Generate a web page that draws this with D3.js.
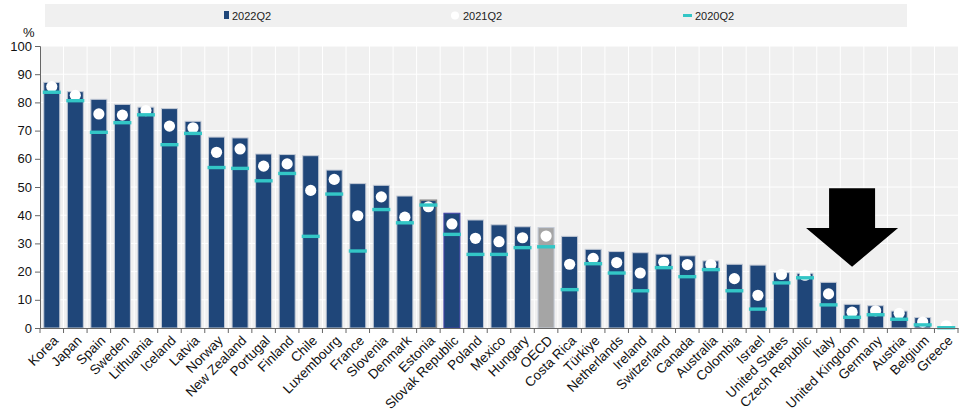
<!DOCTYPE html>
<html>
<head>
<meta charset="utf-8">
<script src="https://cdn.jsdelivr.net/npm/d3@7"></script>
<style>
  body { margin: 0; background: #fff; }
  svg { display: block; font-family: "Liberation Sans", Arial, sans-serif; }
</style>
</head>
<body>
<div id="visContainer"></div>
<script>
const width = 960;
const height = 417;

const countries = ["Korea", "Japan", "Spain", "Sweden", "Lithuania", "Iceland", "Latvia", "Norway",
  "New Zealand", "Portugal", "Finland", "Chile", "Luxembourg", "France", "Slovenia", "Denmark",
  "Estonia", "Slovak Republic", "Poland", "Mexico", "Hungary", "OECD", "Costa Rica", "Türkiye",
  "Netherlands", "Ireland", "Switzerland", "Canada", "Australia", "Colombia", "Israel",
  "United States", "Czech Republic", "Italy", "United Kingdom", "Germany", "Austria", "Belgium", "Greece"];

const q2022 = [87.1, 83.8, 81.1, 79.3, 78.3, 77.8, 73.3, 67.7, 67.4, 61.7, 61.5, 61.1, 56.0, 51.2, 50.6, 46.8,
  45.3, 40.7, 38.3, 36.6, 35.9, 35.6, 32.5, 27.9, 27.1, 26.7, 26.2, 25.6, 23.8, 22.6, 22.3,
  19.6, 19.4, 16.2, 8.4, 7.9, 6.0, 3.7, 0.4];

const q2021 = [85.6, 82.5, 75.9, 75.5, 77.1, 71.6, 71.0, 62.3, 63.5, 57.4, 58.2, 48.8, 52.7, 39.8, 46.5, 39.3,
  43.0, 36.9, 31.8, 30.6, 32.0, 32.6, 22.6, 24.7, 23.2, 19.5, 23.3, 22.5, 22.5, 17.5, 11.6,
  19.0, 18.7, 12.1, 5.6, 6.1, 5.2, 2.1, 0.8];

const q2020 = [83.6, 80.6, 69.4, 72.8, 75.6, 65.0, 69.0, 56.9, 56.6, 52.2, 54.8, 32.5, 47.5, 27.3, 42.0, 37.3,
  43.6, 33.2, 26.1, 26.1, 28.5, 28.8, 13.6, 22.8, 19.5, 13.2, 21.4, 18.2, 20.7, 13.2, 6.7,
  16.0, 17.8, 8.2, 3.8, 4.7, 3.1, 1.1, 0.1];

const yTicks = [0, 10, 20, 30, 40, 50, 60, 70, 80, 90, 100];
const seriesNames = ["2022Q2", "2021Q2", "2020Q2"];

const navy = "#1f4679";
const teal = "#33c6c6";
const oecdGrey = "#a5a5a5";
const panel = "#f0f0f0";

const margin = { left: 40, right: 958, top: 46, bottom: 328 };

const data = countries.map((c, i) => ({ country: c, v22: q2022[i], v21: q2021[i], v20: q2020[i] }));

const svg = d3.select("#visContainer")
  .append("svg")
  .attr("width", width)
  .attr("height", height);

const x = d3.scaleBand()
  .domain(countries)
  .range([margin.left, margin.right])
  .paddingInner(0.32)
  .paddingOuter(0.16);

const y = d3.scaleLinear()
  .domain([0, 100])
  .range([margin.bottom, margin.top]);

// plot background + white grid
svg.append("rect")
  .attr("x", margin.left).attr("y", margin.top)
  .attr("width", margin.right - margin.left).attr("height", margin.bottom - margin.top)
  .attr("fill", panel);

const step = x.step();
svg.append("g")
  .selectAll("line.hgrid")
  .data(yTicks.filter(d => d > 0))
  .join("line")
  .attr("x1", margin.left).attr("x2", margin.right)
  .attr("y1", d => y(d)).attr("y2", d => y(d))
  .attr("stroke", "#fff").attr("stroke-width", 1);

svg.append("g")
  .selectAll("line.vgrid")
  .data(countries.slice(1))
  .join("line")
  .attr("x1", d => x(d) - (step - x.bandwidth()) / 2)
  .attr("x2", d => x(d) - (step - x.bandwidth()) / 2)
  .attr("y1", margin.top).attr("y2", margin.bottom)
  .attr("stroke", "#fff").attr("stroke-width", 1);

// legend
const legend = svg.append("g");
legend.append("rect")
  .attr("x", 45).attr("y", 4).attr("width", 862).attr("height", 23)
  .attr("fill", panel);
const legendX = [224, 455, 683];
legend.append("rect").attr("x", legendX[0]).attr("y", 11).attr("width", 5).attr("height", 8).attr("fill", navy);
legend.append("circle").attr("cx", legendX[1]).attr("cy", 15.5).attr("r", 4).attr("fill", "#fff");
legend.append("rect").attr("x", legendX[2]).attr("y", 14).attr("width", 9).attr("height", 3).attr("fill", teal);
legend.selectAll("text")
  .data(seriesNames)
  .join("text")
  .attr("x", (d, i) => legendX[i] + (i === 2 ? 12 : 8))
  .attr("y", 19.5)
  .attr("font-size", 11)
  .attr("fill", "#222")
  .text(d => d);

// bars
svg.append("g")
  .selectAll("rect")
  .data(data)
  .join("rect")
  .attr("x", d => x(d.country))
  .attr("y", d => y(d.v22))
  .attr("width", x.bandwidth())
  .attr("height", d => y(0) - y(d.v22))
  .attr("fill", d => d.country === "OECD" ? oecdGrey : navy)
  .attr("stroke", d => d.country === "Estonia" ? "#8a8a8a" : d.country === "Slovak Republic" ? "#4444aa" : "#c3cad6")
  .attr("stroke-width", d => d.country === "Estonia" ? 1.6 : 1);

// 2021 dots
svg.append("g")
  .selectAll("circle")
  .data(data)
  .join("circle")
  .attr("cx", d => x(d.country) + x.bandwidth() / 2)
  .attr("cy", d => y(d.v21))
  .attr("r", 5.6)
  .attr("fill", "#fff");

// 2020 dashes
svg.append("g")
  .selectAll("rect")
  .data(data)
  .join("rect")
  .attr("x", d => x(d.country) - 1)
  .attr("y", d => y(d.v20) - 1.7)
  .attr("width", x.bandwidth() + 2)
  .attr("height", 3.4)
  .attr("fill", teal);

// axes
const xAxis = d3.axisBottom(x).tickSize(0).tickFormat("");
const gx = svg.append("g").attr("transform", `translate(0,${margin.bottom})`).call(xAxis);
gx.select(".domain").attr("stroke", "#666");
svg.append("g")
  .selectAll("line")
  .data(countries.concat(["__end"]))
  .join("line")
  .attr("x1", (d, i) => margin.left + i * step)
  .attr("x2", (d, i) => margin.left + i * step)
  .attr("y1", margin.bottom).attr("y2", margin.bottom + 5)
  .attr("stroke", "#666");

svg.append("g")
  .selectAll("text")
  .data(countries)
  .join("text")
  .attr("transform", d => `translate(${x(d) + x.bandwidth() / 2 + 4},${margin.bottom + 10}) rotate(-45)`)
  .attr("text-anchor", "end")
  .attr("dy", "0.35em")
  .attr("font-size", 13.5)
  .attr("fill", "#111")
  .text(d => d);

const yAxis = d3.axisLeft(y).tickValues(yTicks).tickSize(5).tickPadding(3);
const gy = svg.append("g").attr("transform", `translate(${margin.left},0)`).call(yAxis);
gy.select(".domain").attr("stroke", "#666");
gy.selectAll(".tick line").attr("stroke", "#666");
gy.selectAll(".tick text")
  .attr("font-size", 13)
  .attr("font-family", "Liberation Sans, Arial, sans-serif")
  .attr("fill", "#111");

svg.append("text")
  .attr("x", 23).attr("y", 37)
  .attr("font-size", 13)
  .attr("fill", "#111")
  .text("%");

// arrow pointing at the United Kingdom
const ax = x("United Kingdom") + x.bandwidth() / 2;
svg.append("path")
  .attr("d", `M${ax - 23},${y(49.6)} L${ax + 23},${y(49.6)} L${ax + 23},${y(35.5)} L${ax + 46},${y(35.5)}
              L${ax},${y(21.7)} L${ax - 46},${y(35.5)} L${ax - 23},${y(35.5)} Z`)
  .attr("fill", "#000");
</script>
</body>
</html>
